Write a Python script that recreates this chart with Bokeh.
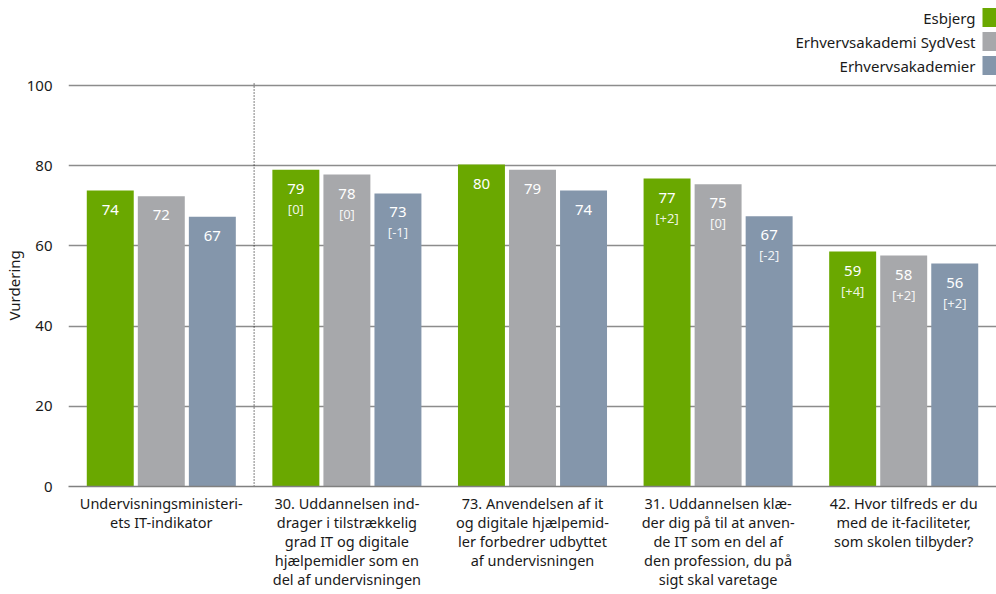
from bokeh.plotting import figure
from bokeh.models import (ColumnDataSource, FactorRange, FixedTicker, Label,
                          BoxAnnotation, Title)
from bokeh.transform import dodge
from bokeh.core.properties import value
from bokeh.embed import file_html
from bokeh.resources import INLINE

categories = [
    "Undervisningsministeri-\nets IT-indikator",
    "30. Uddannelsen ind-\ndrager i tilstrækkelig\ngrad IT og digitale\nhjælpemidler som en\ndel af undervisningen",
    "73. Anvendelsen af it\nog digitale hjælpemid-\nler forbedrer udbyttet\naf undervisningen",
    "31. Uddannelsen klæ-\nder dig på til at anven-\nde IT som en del af\nden profession, du på\nsigt skal varetage",
    "42. Hvor tilfreds er du\nmed de it-faciliteter,\nsom skolen tilbyder?",
]
series_names = ["Esbjerg", "Erhvervsakademi SydVest", "Erhvervsakademier"]
esbjerg = [73.8, 79.0, 80.3, 76.8, 58.6]
sydvest = [72.4, 77.8, 79.0, 75.4, 57.6]
akademier = [67.3, 73.1, 73.8, 67.4, 55.6]
esbjerg_change = ["", "[0]", "", "[+2]", "[+4]"]
sydvest_change = ["", "[0]", "", "[0]", "[+2]"]
akademier_change = ["", "[-1]", "", "[-2]", "[+2]"]
y_ticks = [0, 20, 40, 60, 80, 100]

colors = ["#6aa800", "#a7a8ab", "#8496ab"]
FONT = "Noto Sans"

# frame spans the full height above the baseline so the legend fits inside it
p = figure(x_range=FactorRange(*categories, range_padding=0), y_range=(0, 121.2),
           width=996, height=594, output_backend="svg", toolbar_location=None,
           min_border_left=68, min_border_right=0, min_border_top=0, min_border_bottom=108)
p.x_range.range_padding = 0
p.outline_line_color = None
p.background_fill_color = "white"

series = [esbjerg, sydvest, akademier]
changes = [esbjerg_change, sydvest_change, akademier_change]
offsets = [-0.275, 0.0, 0.275]
for vals, chg, col, off in zip(series, changes, colors, offsets):
    src = ColumnDataSource(dict(cat=categories, v=vals,
                                lab=[str(int(round(x))) for x in vals], chg=chg))
    p.vbar(x=dodge("cat", off, range=p.x_range), top="v", width=0.253, source=src,
           fill_color=col, line_color=None)
    p.text(x=dodge("cat", off, range=p.x_range), y="v", text="lab", source=src,
           text_color="white", text_font=value(FONT), text_font_size="15px",
           text_align="center", text_baseline="middle", y_offset=19)
    p.text(x=dodge("cat", off, range=p.x_range), y="v", text="chg", source=src,
           text_color="white", text_alpha=0.9, text_font=value(FONT), text_font_size="13px",
           text_align="center", text_baseline="middle", y_offset=39)

# dotted separator between the first and the remaining categories
sep = ColumnDataSource(dict(cat=[categories[0]], y0=[0], y1=[100.8]))
p.segment(x0=dodge("cat", 0.5, range=p.x_range), y0="y0",
          x1=dodge("cat", 0.5, range=p.x_range), y1="y1", source=sep,
          line_color="#000000", line_width=1, line_dash="1 2")

# axes
p.yaxis.ticker = FixedTicker(ticks=y_ticks)
p.ygrid.ticker = FixedTicker(ticks=y_ticks)
p.ygrid.grid_line_color = "#8c8c8c"
p.ygrid.grid_line_width = 1.3
p.xgrid.grid_line_color = None
p.yaxis.axis_line_color = None
p.yaxis.major_tick_line_color = None
p.yaxis.minor_tick_line_color = None
p.yaxis.major_label_standoff = 10
p.yaxis.major_label_text_font = FONT
p.yaxis.major_label_text_font_size = "15px"
p.yaxis.major_label_text_color = "#1a1a1a"

p.add_layout(Title(text="Vurdering", align="left", offset=166, text_font=FONT,
                   text_font_size="15px", text_font_style="normal",
                   text_color="#1a1a1a", standoff=0), "left")

p.xaxis.axis_line_color = "#808080"
p.xaxis.axis_line_width = 1.5
p.xaxis.major_tick_line_color = None
p.xaxis.minor_tick_line_color = None
p.xaxis.major_label_standoff = 0
p.xaxis.major_label_text_font = FONT
p.xaxis.major_label_text_font_size = "14.5px"
p.xaxis.major_label_text_line_height = 0.96
p.xaxis.major_label_text_color = "#1a1a1a"

# legend (text right-aligned, swatch to the right)
legend_centers = [17, 41, 65]
for name, col, cy in zip(series_names, colors, legend_centers):
    sy = 486 - cy
    p.add_layout(Label(x=907, y=sy, x_units="screen", y_units="screen", text=name,
                       text_align="right", text_baseline="middle", text_font=FONT,
                       text_font_size="15px", text_color="#1a1a1a"))
    p.add_layout(BoxAnnotation(left=914, right=928, bottom=sy - 9.5, top=sy + 9.5,
                               left_units="screen", right_units="screen",
                               bottom_units="screen", top_units="screen",
                               fill_color=col, fill_alpha=1, line_color=None))

open("out.html", "w").write(file_html(p, INLINE))
